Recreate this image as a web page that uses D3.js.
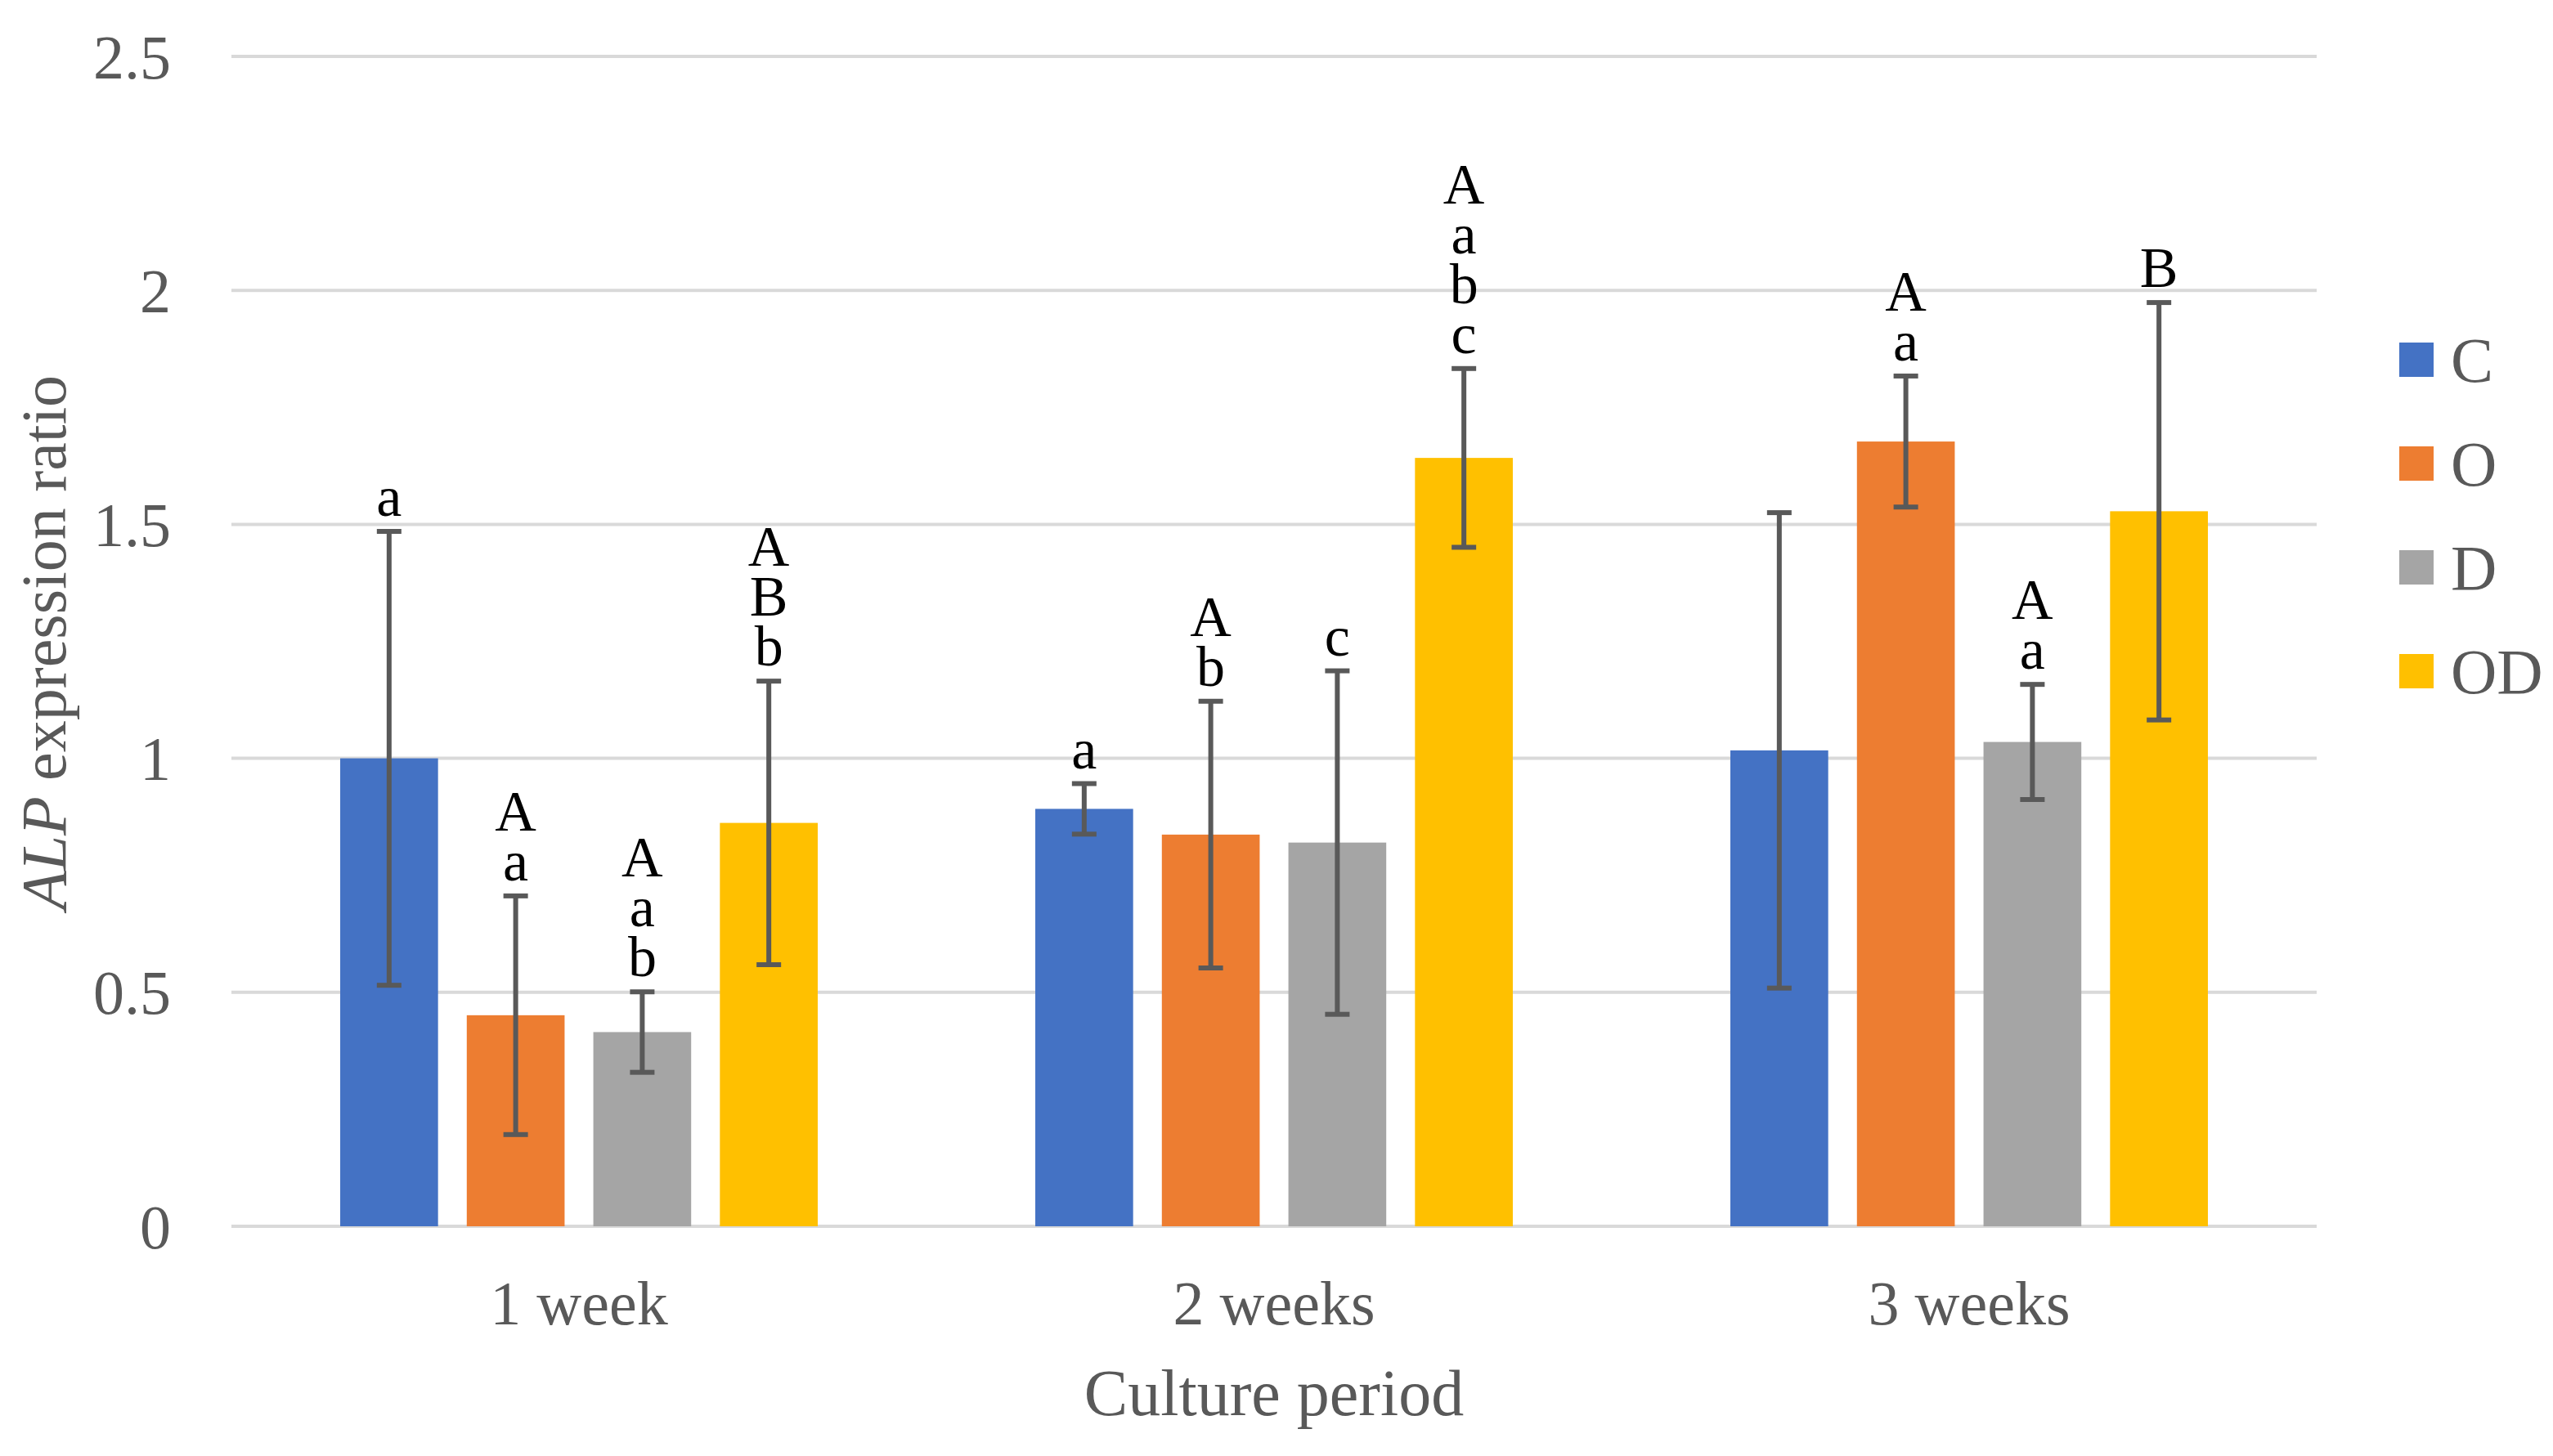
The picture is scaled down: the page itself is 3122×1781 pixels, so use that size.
<!DOCTYPE html>
<html>
<head>
<meta charset="utf-8">
<script src="https://cdn.jsdelivr.net/npm/d3@7"></script>
<style>
  body { margin: 0; background: #fff; }
</style>
</head>
<body>
<svg id="chart"></svg>
<script>
const categories = ["1 week", "2 weeks", "3 weeks"];
const series = ["C", "O", "D", "OD"];
const colors = ["#4472C4", "#ED7D31", "#A5A5A5", "#FFC000"];

// bar heights
const valC = [1.00, 0.892, 1.017];
const valO = [0.451, 0.837, 1.677];
const valD = [0.415, 0.820, 1.035];
const valOD = [0.862, 1.642, 1.528];

// error bar half-lengths
const errC = [0.485, 0.054, 0.508];
const errO = [0.255, 0.285, 0.140];
const errD = [0.086, 0.367, 0.123];
const errOD = [0.303, 0.191, 0.446];

// significance letters above each bar (top to bottom)
const labC = [["a"], ["a"], []];
const labO = [["A", "a"], ["A", "b"], ["A", "a"]];
const labD = [["A", "a", "b"], ["c"], ["A", "a"]];
const labOD = [["A", "B", "b"], ["A", "a", "b", "c"], ["B"]];

const yTicks = [0, 0.5, 1, 1.5, 2, 2.5];

const W = 3122, H = 1781;
const plotL = 283, plotR = 2833, plotT = 69, plotB = 1500;

const vals = [valC, valO, valD, valOD];
const errs = [errC, errO, errD, errOD];
const labs = [labC, labO, labD, labOD];

const data = [];
series.forEach((s, si) => {
  categories.forEach((c, ci) => {
    data.push({ s: s, si: si, c: c, v: vals[si][ci], e: errs[si][ci], lab: labs[si][ci] });
  });
});

const svg = d3.select("#chart").attr("width", W).attr("height", H)
  .attr("font-family", "'Liberation Serif', 'DejaVu Serif', serif");

const x0 = d3.scaleBand().domain(categories).range([plotL, plotR])
  .paddingInner(0.313).paddingOuter(0.1565);
const x1 = d3.scaleBand().domain(series).range([0, x0.bandwidth()])
  .paddingInner(0.227).paddingOuter(0);
const y = d3.scaleLinear().domain([0, 2.5]).range([plotB, plotT]);

// gridlines
svg.append("g").selectAll("line").data(yTicks).join("line")
  .attr("x1", plotL).attr("x2", plotR)
  .attr("y1", d => y(d)).attr("y2", d => y(d))
  .attr("stroke", "#d9d9d9").attr("stroke-width", 4);

// y tick labels
svg.append("g").selectAll("text").data(yTicks).join("text")
  .attr("x", 209).attr("y", d => y(d)).attr("dy", "0.35em")
  .attr("text-anchor", "end").attr("fill", "#595959")
  .style("font-size", "76px")
  .text(d => d);

// bars
const cx = d => x0(d.c) + x1(d.s) + x1.bandwidth() / 2;
svg.append("g").selectAll("rect").data(data).join("rect")
  .attr("x", d => x0(d.c) + x1(d.s))
  .attr("width", x1.bandwidth())
  .attr("y", d => y(d.v))
  .attr("height", d => y(0) - y(d.v))
  .attr("fill", d => colors[d.si]);

// error bars
const eb = svg.append("g").attr("stroke", "#595959").attr("stroke-width", 6);
eb.selectAll(".v").data(data).join("line").attr("class", "v")
  .attr("x1", cx).attr("x2", cx)
  .attr("y1", d => y(d.v + d.e)).attr("y2", d => y(d.v - d.e));
eb.selectAll(".t").data(data).join("line").attr("class", "t")
  .attr("x1", d => cx(d) - 15).attr("x2", d => cx(d) + 15)
  .attr("y1", d => y(d.v + d.e)).attr("y2", d => y(d.v + d.e));
eb.selectAll(".b").data(data).join("line").attr("class", "b")
  .attr("x1", d => cx(d) - 15).attr("x2", d => cx(d) + 15)
  .attr("y1", d => y(d.v - d.e)).attr("y2", d => y(d.v - d.e));

// letters
const letters = [];
data.forEach(d => {
  const n = d.lab.length;
  d.lab.forEach((l, i) => {
    letters.push({ x: cx(d), y: y(d.v + d.e) - 19 - (n - 1 - i) * 61, t: l });
  });
});
svg.append("g").selectAll("text").data(letters).join("text")
  .attr("x", d => d.x).attr("y", d => d.y)
  .attr("text-anchor", "middle").attr("fill", "#000")
  .style("font-size", "70px")
  .text(d => d.t);

// x tick labels
svg.append("g").selectAll("text").data(categories).join("text")
  .attr("x", d => x0(d) + x0.bandwidth() / 2).attr("y", 1620)
  .attr("text-anchor", "middle").attr("fill", "#595959")
  .style("font-size", "76px")
  .text(d => d);

// axis titles
svg.append("text")
  .attr("x", (plotL + plotR) / 2).attr("y", 1731)
  .attr("text-anchor", "middle").attr("fill", "#595959")
  .style("font-size", "80px")
  .text("Culture period");

const yt = svg.append("text")
  .attr("transform", "translate(80,786) rotate(-90)")
  .attr("text-anchor", "middle").attr("fill", "#595959")
  .style("font-size", "78px");
yt.append("tspan").style("font-style", "italic").text("ALP");
yt.append("tspan").text(" expression ratio");

// legend
const lg = svg.append("g").selectAll("g").data(series).join("g")
  .attr("transform", (d, i) => `translate(2934,${440 + i * 127})`);
lg.append("rect").attr("x", 0).attr("y", -21).attr("width", 42).attr("height", 42)
  .attr("fill", (d, i) => colors[i]);
lg.append("text").attr("x", 63).attr("y", 0).attr("dy", "0.35em")
  .attr("fill", "#595959").style("font-size", "78px")
  .text(d => d);
</script>
</body>
</html>
